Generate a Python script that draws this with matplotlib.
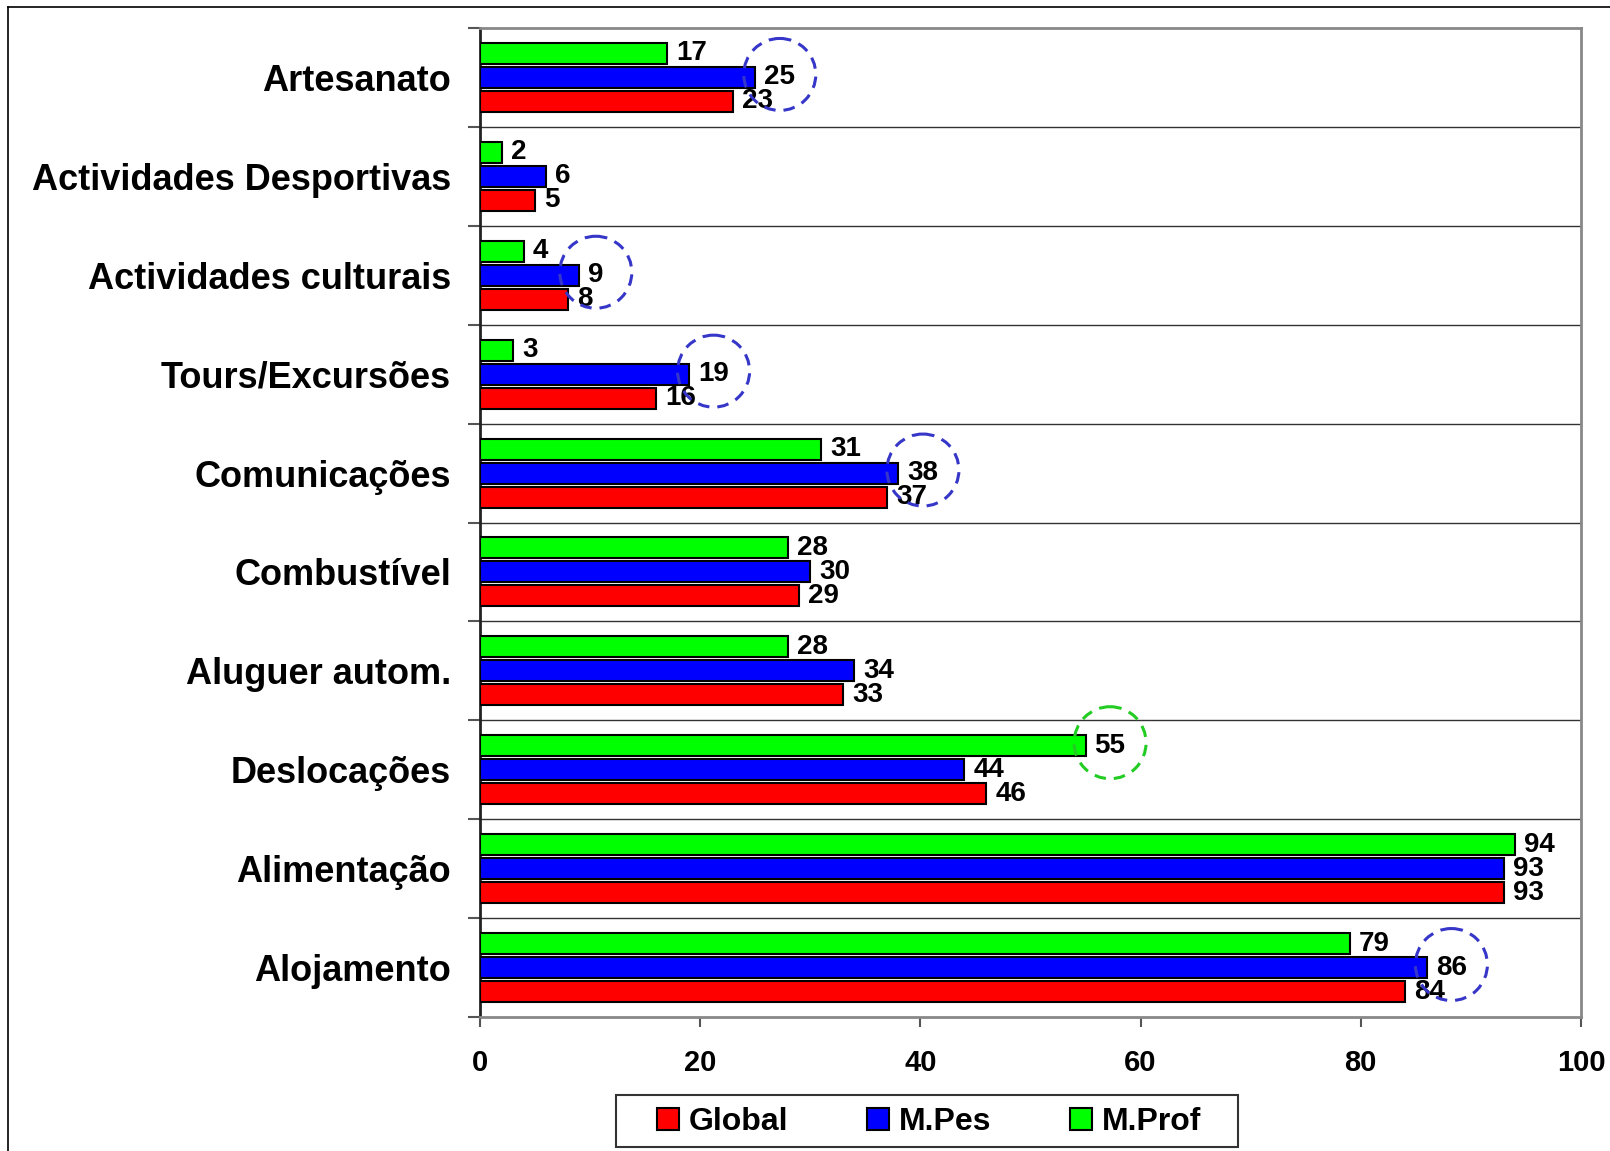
import numpy as np
import matplotlib.pyplot as plt
from matplotlib.patches import Patch, Ellipse, Rectangle
from matplotlib.lines import Line2D

plt.rcParams['font.family'] = ['Liberation Sans', 'DejaVu Sans']
plt.rcParams['font.weight'] = 'bold'

## categories, top to bottom
categorias = ['Artesanato', 'Actividades Desportivas', 'Actividades culturais',
              'Tours/Excursões', 'Comunicações', 'Combustível', 'Aluguer autom.',
              'Deslocações', 'Alimentação', 'Alojamento']

## series values (%)
global_vals = [23, 5, 8, 16, 37, 29, 33, 46, 93, 84]
mpes_vals = [25, 6, 9, 19, 38, 30, 34, 44, 93, 86]
mprof_vals = [17, 2, 4, 3, 31, 28, 28, 55, 94, 79]

## highlighted labels: (category index, series name)
destaques = [(0, 'M.Pes'), (2, 'M.Pes'), (3, 'M.Pes'), (4, 'M.Pes'),
             (7, 'M.Prof'), (9, 'M.Pes')]

series = [('M.Prof', mprof_vals, '#00FF00', -0.243),
          ('M.Pes', mpes_vals, '#0000FF', 0.0),
          ('Global', global_vals, '#FF0000', 0.243)]
cor_circulo = {'M.Pes': '#3636C8', 'M.Prof': '#22CC22'}

fig = plt.figure(figsize=(16.1, 11.51), dpi=100)
ax = fig.add_axes([480/1610, 1-1017/1151, 1101/1610, 989/1151])

n = len(categorias)
centros = np.arange(n) + 0.5
textos = {}
for nome, vals, cor, desl in series:
    ax.barh(centros + desl, vals, height=0.212, color=cor,
            edgecolor='black', linewidth=1.5, zorder=3)
    for i, v in enumerate(vals):
        t = ax.annotate(str(v), (v, centros[i] + desl), xytext=(6.5, 0),
                        textcoords='offset points', ha='left', va='center',
                        fontsize=20, fontweight='bold', zorder=5)
        textos[(i, nome)] = t

ax.set_xlim(0, 100)
ax.set_ylim(n, 0)
ax.set_xticks(np.arange(0, 101, 20))
ax.tick_params(axis='x', direction='out', length=7, width=1.5,
               color='#555555', pad=16, labelsize=21)
ax.set_yticks(np.arange(0, n + 1))
ax.set_yticklabels([])
ax.tick_params(axis='y', which='major', direction='out', length=9,
               width=1.5, color='#555555')
ax.set_yticks(centros, minor=True)
ax.set_yticklabels(categorias, minor=True, fontsize=26, fontweight='bold')
ax.tick_params(axis='y', which='minor', length=0, pad=21)
for lbl in ax.get_xticklabels():
    lbl.set_fontweight('bold')

for y in range(1, n):
    ax.axhline(y, color='#333333', linewidth=1, zorder=1)
for s in ['top', 'right', 'bottom']:
    ax.spines[s].set_color('#888888')
    ax.spines[s].set_linewidth(2)
ax.spines['left'].set_color('#222222')
ax.spines['left'].set_linewidth(2)

## dashed circles around the highlighted labels
fig.canvas.draw()
r = fig.canvas.get_renderer()
px_x = 1101 / 100.0
px_y = 989 / n
inv = ax.transData.inverted()
for i, nome in destaques:
    bb = textos[(i, nome)].get_window_extent(r)
    cx, cy = inv.transform(((bb.x0 + bb.x1) / 2, (bb.y0 + bb.y1) / 2 + 3))
    ax.add_patch(Ellipse((cx, cy), 72 / px_x, 72 / px_y, fill=False,
                         edgecolor=cor_circulo[nome], linewidth=2.2,
                         linestyle=(0, (3.8, 2.6)), zorder=6, clip_on=False))

## legend (entries without frame, box drawn separately)
handles = [Patch(facecolor='#FF0000', edgecolor='black', linewidth=1.5),
           Patch(facecolor='#0000FF', edgecolor='black', linewidth=1.5),
           Patch(facecolor='#00FF00', edgecolor='black', linewidth=1.5)]
leg = fig.legend(handles, ['Global', 'M.Pes', 'M.Prof'], ncol=3, loc='center',
                 bbox_to_anchor=(929/1610, 1-1122/1151), fontsize=23,
                 frameon=False, handlelength=0.7, handleheight=0.7,
                 handletextpad=0.3, columnspacing=2.45)
for t in leg.get_texts():
    t.set_fontweight('bold')
fig.add_artist(Rectangle((616/1610, 1-1147/1151), 622/1610, 52/1151,
                         transform=fig.transFigure, fill=False,
                         edgecolor='#333333', linewidth=1.5))

## outer frame
fig.add_artist(Line2D([8/1610, 8/1610], [0, 1-7/1151], color='black', linewidth=1.2))
fig.add_artist(Line2D([8/1610, 1], [1-7/1151, 1-7/1151], color='black', linewidth=1.2))

fig.savefig('out.png', dpi=100)
